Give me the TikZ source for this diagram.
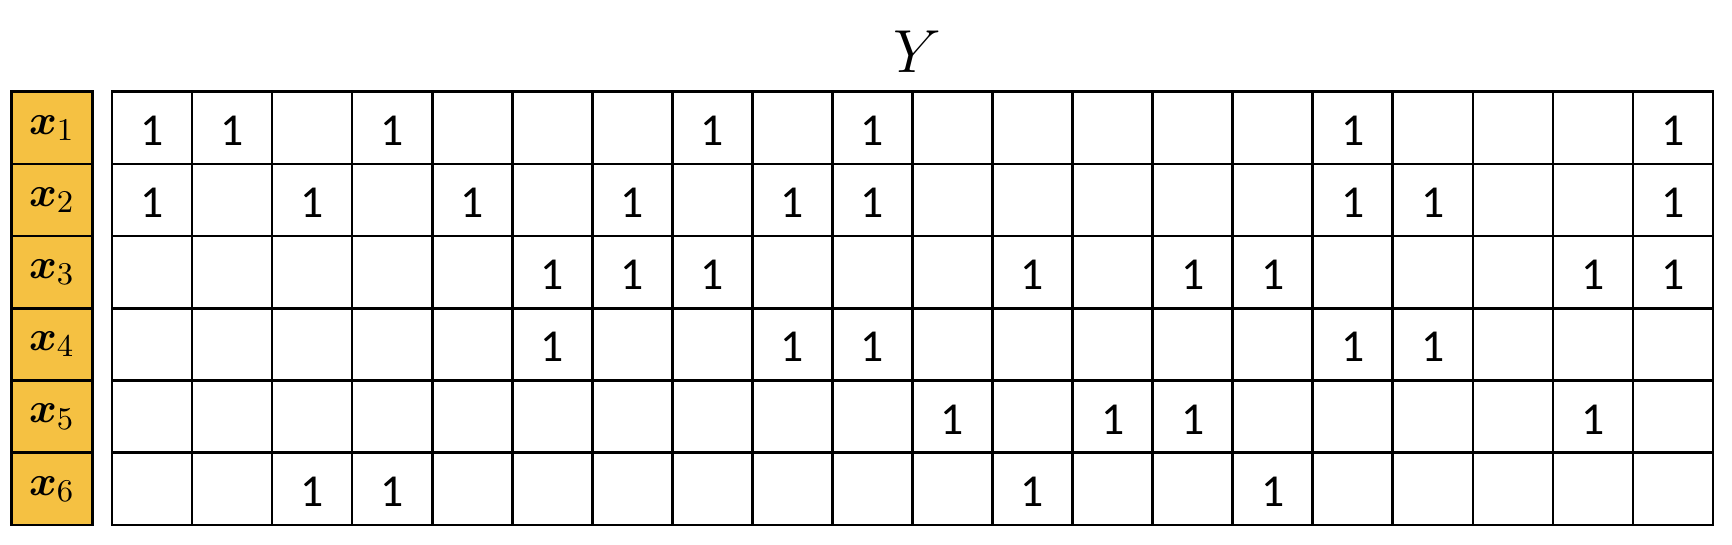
\documentclass[tikz,border=0pt]{standalone}
\usepackage{amsmath}
\usepackage{bm}
\usepackage{fontspec}
\setmainfont{Carlito}
\usepackage{tikz}
\definecolor{labfill}{RGB}{245,193,66}

\begin{document}
\begin{tikzpicture}[x=0.01cm,y=-0.01cm]
    \tikzstyle{cell}=[draw=black,line width=0.75pt,minimum width=0.8005cm,minimum height=0.722cm,inner sep=0pt]
    \tikzstyle{rowlab}=[cell,fill=labfill,minimum width=0.806cm,font=\fontsize{13}{16}\selectfont]
    \tikzstyle{one}=[inner sep=0pt,yshift=-0.8pt,font=\fontsize{13}{15}\selectfont]

    \useasboundingbox (0,0) rectangle (1732,544);

    \node[font=\fontsize{18}{21}\selectfont] (Y) at (917,52) {$Y$};

    \foreach \r in {1,...,6} {
      \node[rowlab] (x\r) at (52,{91.7+72.2*(\r-0.5)}) {$\bm{x}_{\r}$};
      \foreach \c in {1,...,20} {
        \node[cell] (c\r-\c) at ({112+80.05*(\c-0.5)},{91.7+72.2*(\r-0.5)}) {};
      }
    }

    \foreach \r/\ones in {1/{1,2,4,8,10,16,20},
                          2/{1,3,5,7,9,10,16,17,20},
                          3/{6,7,8,12,14,15,19,20},
                          4/{6,9,10,16,17},
                          5/{11,13,14,19},
                          6/{3,4,12,15}} {
      \foreach \c in \ones {
        \node[one] (one\r-\c) at (c\r-\c) {1};
      }
    }

\end{tikzpicture}
\end{document}
